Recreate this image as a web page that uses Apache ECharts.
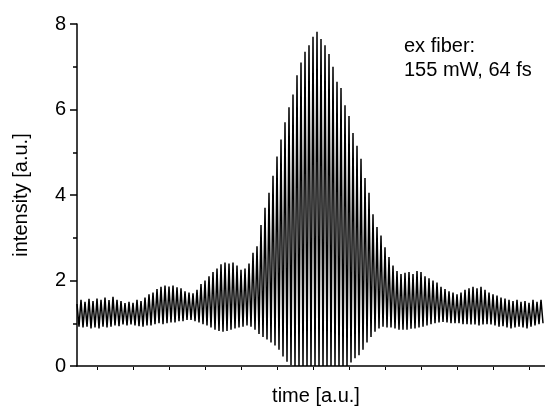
<!DOCTYPE html>
<html>
<head>
<meta charset="utf-8">
<script src="https://cdn.jsdelivr.net/npm/echarts@6/dist/echarts.min.js"></script>
<style>html,body{margin:0;padding:0;background:#fff}#c{width:545px;height:411px}</style>
</head>
<body>
<div id="c"></div>
<script>
// Fringe maxima (upper envelope), one per fringe
var fringeMax = [
1.45,1.55,1.50,1.57,1.52,1.58,1.55,1.60,1.54,1.62,
1.55,1.52,1.47,1.50,1.48,1.55,1.52,1.60,1.68,1.72,
1.80,1.85,1.88,1.86,1.88,1.84,1.82,1.75,1.72,1.70,
1.78,1.92,2.00,2.10,2.20,2.28,2.38,2.42,2.40,2.42,
2.35,2.25,2.28,2.40,2.65,2.80,3.30,3.70,4.05,4.45,
4.90,5.30,5.70,6.05,6.35,6.80,7.10,7.35,7.50,7.70,
7.82,7.65,7.50,7.30,7.00,6.65,6.50,6.10,5.85,5.45,
5.15,4.85,4.40,4.05,3.55,3.25,3.05,2.78,2.55,2.35,
2.22,2.15,2.18,2.20,2.15,2.22,2.20,2.10,2.05,2.00,
1.95,1.85,1.80,1.75,1.72,1.68,1.72,1.78,1.82,1.85,
1.82,1.85,1.78,1.72,1.68,1.65,1.60,1.58,1.55,1.52,
1.55,1.50,1.52,1.48,1.55,1.50,1.55
];
// Fringe minima (lower envelope), one after each maximum
var fringeMin = [
0.92,0.90,0.92,0.88,0.90,0.88,0.92,0.90,0.92,0.95,
0.93,0.97,0.95,0.97,0.95,0.93,0.92,0.95,0.95,0.98,
1.00,0.98,1.00,1.02,1.02,1.05,1.05,1.08,1.08,1.05,
1.02,0.98,0.95,0.90,0.85,0.82,0.80,0.82,0.85,0.88,
0.90,0.92,0.95,0.92,0.85,0.75,0.68,0.62,0.55,0.48,
0.38,0.22,0.10,0.02,0.00,0.00,0.00,0.00,0.00,0.00,
0.00,0.00,0.00,0.00,0.00,0.00,0.00,0.00,0.08,0.18,
0.25,0.38,0.55,0.68,0.80,0.88,0.92,0.90,0.90,0.88,
0.85,0.85,0.85,0.87,0.88,0.90,0.92,0.95,0.98,1.00,
1.02,1.03,1.02,1.00,1.00,1.00,0.98,0.98,0.97,0.97,
0.95,0.97,0.98,0.97,0.95,0.92,0.93,0.90,0.88,0.90,
0.92,0.90,0.88,0.92,0.95,0.98,1.00
];
var yTicks = [0, 2, 4, 6, 8];
var xName = 'time [a.u.]';
var yName = 'intensity [a.u.]';
var note = 'ex fiber:\n155 mW, 64 fs';

var pts = [];
for (var i = 0; i < fringeMax.length; i++) {
  pts.push([i, fringeMax[i]]);
  pts.push([i + 0.5, fringeMin[i]]);
}
var font = 'Liberation Sans, Arial, Helvetica, sans-serif';
var chart = echarts.init(document.getElementById('c'), null, {renderer: 'canvas'});
chart.setOption({
  animation: false,
  backgroundColor: '#fff',
  title: {
    text: note, left: 399, top: 29,
    textStyle: {fontFamily: font, fontSize: 20, fontWeight: 'normal', color: '#000', lineHeight: 24}
  },
  grid: [
    {left: 77, right: 0, top: 24, bottom: 41, containLabel: false},
    {left: 97, right: 16, top: 24, bottom: 41, containLabel: false}
  ],
  xAxis: [
    {type: 'value', gridIndex: 0, min: 0, max: 117,
     name: xName, nameLocation: 'middle', nameGap: 20,
     nameTextStyle: {fontFamily: font, fontSize: 20, color: '#000', padding: [0, 0, 0, 10]},
     axisLine: {show: true, lineStyle: {color: '#000', width: 1.5}},
     axisTick: {show: false}, axisLabel: {show: false}, splitLine: {show: false}},
    {type: 'value', gridIndex: 1, min: 0, max: 12, interval: 1,
     axisLine: {show: false},
     axisTick: {show: true, inside: true, length: 3, lineStyle: {color: '#000', width: 1}},
     axisLabel: {show: false}, splitLine: {show: false}}
  ],
  yAxis: [
    {type: 'value', gridIndex: 0, min: yTicks[0], max: yTicks[yTicks.length - 1], interval: 2,
     name: yName, nameLocation: 'middle', nameGap: 46, nameRotate: 90,
     nameTextStyle: {fontFamily: font, fontSize: 20, color: '#000'},
     axisLine: {show: true, lineStyle: {color: '#000', width: 1.5}},
     axisTick: {show: true, inside: false, length: 7, lineStyle: {color: '#000', width: 1.5}},
     minorTick: {show: true, splitNumber: 2, length: 4, lineStyle: {color: '#000', width: 1.5}},
     axisLabel: {fontFamily: font, fontSize: 20, color: '#000', margin: 11},
     splitLine: {show: false}},
    {type: 'value', gridIndex: 1, show: false, min: 0, max: 8}
  ],
  series: [{
    type: 'line', xAxisIndex: 0, yAxisIndex: 0, data: pts,
    showSymbol: false, symbol: 'none', silent: true,
    lineStyle: {color: '#000', width: 1.5}
  }]
});
</script>
</body>
</html>
